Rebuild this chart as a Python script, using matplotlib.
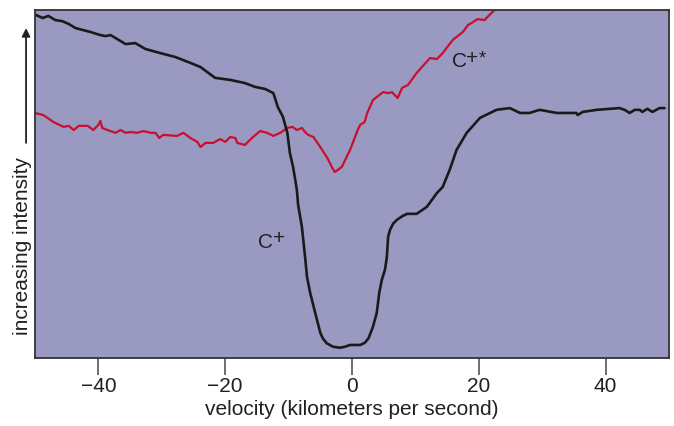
import matplotlib
matplotlib.use("Agg")
import matplotlib.pyplot as plt

plt.rcParams["font.family"] = ["Liberation Sans", "DejaVu Sans"]

# C+ absorption profile (velocity in km/s, intensity in arbitrary units)
c_plus_velocity = [
    -49.9, -48.8, -47.9, -46.8, -45.7, -44.7, -43.6, -41.3, -39.7, -38.9, -38.1,
    -35.7, -34.2, -32.6, -30.2, -27.9, -25.5, -23.9, -21.6, -19.2, -16.9, -15.3,
    -13.7, -12.4, -11.7, -10.9, -10.2, -9.8, -9.3, -9.0, -8.7, -8.5, -7.9, -7.4,
    -7.1, -6.6, -5.8, -5.0, -4.6, -4.0, -3.0, -1.9, -1.1, -0.3, 1.3, 2.0, 2.6, 3.3,
    3.9, 4.3, 4.7, 5.2, 5.5, 5.7, 6.0, 6.5, 7.1, 8.0, 8.7, 10.2, 11.8, 13.4, 14.3,
    15.4, 16.5, 18.1, 20.2, 22.8, 24.9, 26.5, 28.0, 29.6, 32.3, 35.4, 35.6, 36.4,
    38.6, 42.2, 43.0, 43.8, 44.6, 45.4, 45.8, 46.6, 47.4, 48.5, 49.3,
]
c_plus_intensity = [
    98.6, 97.7, 98.3, 97.1, 96.8, 96.0, 94.8, 93.7, 92.8, 92.5, 92.8,
    90.2, 90.5, 88.8, 87.6, 86.5, 84.8, 83.6, 80.5, 79.9, 79.0, 77.9,
    77.3, 76.1, 72.1, 69.3, 64.7, 58.9, 54.9, 51.7, 48.3, 44.0, 37.6, 29.0,
    23.3, 18.7, 12.9, 7.2, 5.6, 4.2, 3.2, 2.9, 3.2, 3.7, 3.7, 4.3, 5.6, 8.9,
    12.9, 18.7, 22.4, 25.3, 29.0, 34.8, 36.8, 38.6, 39.7, 40.8, 41.4, 41.4, 43.4, 47.4, 49.1,
    54.0, 59.8, 64.7, 69.0, 71.3, 71.8, 70.4, 70.4, 71.3, 70.4, 70.4, 69.8, 70.7,
    71.3, 71.8, 71.3, 70.4, 71.3, 71.3, 70.7, 71.6, 70.7, 71.8, 71.8,
]

# C+* absorption profile
c_star_velocity = [
    -50.0, -48.7, -47.1, -45.5, -44.7, -43.9, -43.1, -41.7, -40.8, -40.0, -39.7,
    -39.4, -38.6, -37.3, -36.5, -35.7, -35.0, -33.9, -32.9, -31.8, -31.0, -30.4,
    -29.8, -27.6, -26.6, -25.5, -24.4, -23.9, -23.1, -21.9, -20.8, -20.0, -19.2,
    -18.4, -18.1, -16.9, -15.6, -14.5, -13.4, -12.4, -11.3, -10.2, -9.4, -8.7,
    -7.9, -7.4, -6.9, -6.1, -5.0, -3.9, -3.1, -2.7, -1.6, -0.3, 0.9, 1.3, 2.0,
    2.4, 3.3, 4.9, 5.7, 6.3, 7.2, 7.9, 8.8, 10.2, 12.3, 13.4, 14.3, 15.9, 17.5,
    18.3, 18.9, 19.8, 20.9, 21.7, 22.5, 23.3,
]
c_star_intensity = [
    70.4, 69.8, 67.8, 66.4, 66.7, 65.5, 66.7, 66.7, 65.5, 67.0, 68.1,
    66.1, 65.5, 64.7, 65.5, 64.7, 64.9, 64.7, 65.2, 64.7, 64.7, 63.2,
    64.1, 63.8, 64.7, 63.2, 62.1, 60.6, 61.8, 61.8, 62.9, 62.1, 63.5,
    63.2, 61.8, 61.2, 63.5, 65.2, 64.7, 63.8, 64.7, 66.1, 66.4, 65.5,
    66.1, 64.9, 64.1, 63.5, 60.6, 57.5, 54.6, 53.4, 54.9, 59.8, 65.5, 67.0, 67.8,
    70.4, 74.1, 76.4, 76.1, 76.4, 74.7, 77.6, 78.4, 81.9, 86.2, 85.9, 87.6, 91.4, 93.7,
    95.7, 96.3, 97.4, 97.1, 98.6, 100.0, 101.4,
]

x_ticks = [-40, -20, 0, 20, 40]

bg_color = "#9a99c2"
text_color = "#231f20"

fig = plt.figure(figsize=(6.74, 4.26), dpi=100)
ax = fig.add_axes([0.052, 0.16, 0.9405, 0.8165])
ax.set_facecolor(bg_color)

ax.plot(c_star_velocity, c_star_intensity, color="#c8102e", lw=1.6,
        solid_joinstyle="round", solid_capstyle="round")
ax.plot(c_plus_velocity, c_plus_intensity, color="#1a1a1a", lw=1.9,
        solid_joinstyle="round", solid_capstyle="round")

ax.set_xlim(-50, 50)
ax.set_ylim(0, 100)
ax.set_xticks(x_ticks)
ax.set_xticklabels([str(t).replace("-", "\u2212") for t in x_ticks])
ax.set_yticks([])
ax.tick_params(axis="x", direction="out", length=12, width=1.2, color="#555555",
               labelsize=15, labelcolor=text_color, pad=2)
for s in ax.spines.values():
    s.set_color("#333333")
    s.set_linewidth(1.3)

ax.set_xlabel("velocity (kilometers per second)", fontsize=15, color=text_color, labelpad=3)

# y label with arrow
ax.text(-0.0205, 0.322, "increasing intensity", transform=ax.transAxes, rotation=90,
        ha="center", va="center", fontsize=15, color=text_color, clip_on=False)
ax.annotate("", xy=(-0.0142, 0.948), xytext=(-0.0142, 0.618),
            xycoords="axes fraction", textcoords="axes fraction",
            arrowprops=dict(arrowstyle="-|>", color="#222222", lw=1.3,
                            mutation_scale=12, shrinkA=0, shrinkB=0),
            annotation_clip=False)

# curve labels: "C" with a raised, nearly full-size "+" (and "*")
def ion_label(v, i, marks):
    ax.text(v, i, "C", fontsize=15, color=text_color, ha="left", va="baseline")
    for sym, dx, size in marks:
        ax.annotate(sym, xy=(v, i), xytext=(dx, 2.5), textcoords="offset points",
                    fontsize=size, color=text_color, ha="left", va="baseline")

ion_label(-14.8, 31.6, [("+", 11.0, 15)])
ion_label(15.7, 83.6, [("+", 10.3, 15), ("*", 19.5, 13)])

fig.savefig("out.png", dpi=100)
